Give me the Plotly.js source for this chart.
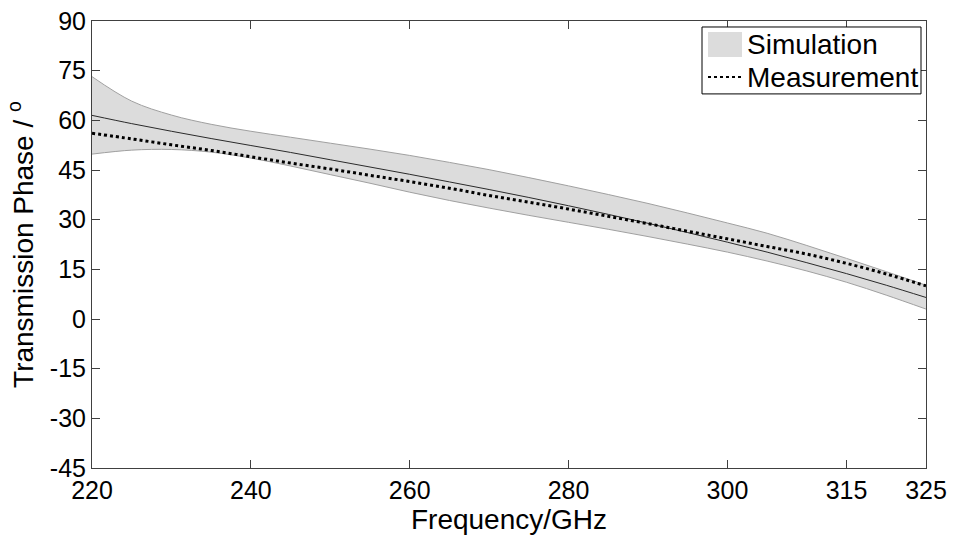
<!DOCTYPE html>
<html>
<head>
<meta charset="utf-8">
<script src="https://cdn.plot.ly/plotly-3.0.1.min.js"></script>
<style>
html,body{margin:0;padding:0;background:#fff;}
#chart{width:954px;height:536px;}
</style>
</head>
<body>
<div id="chart"></div>
<script>
// Frequency (GHz)
var freq = [220,225,230,235,240,245,250,255,260,265,270,275,280,285,290,295,300,305,310,315,320,325];
// Simulation band upper / lower edges and centre line (degrees)
var simUpper = [73.2,65.8,61.6,58.8,56.7,54.9,53.1,51.3,49.4,47.3,45.1,42.7,40.2,37.6,34.9,32.0,29.0,25.9,22.2,18.3,14.3,10.2];
var simLower = [49.8,51.0,51.2,50.4,48.6,46.2,43.6,41.0,38.3,35.8,33.5,31.3,29.2,27.1,24.9,22.6,20.2,17.5,14.5,11.1,7.2,3.0];
var simCenter = [61.5,59.0,56.7,54.5,52.4,50.3,48.1,45.9,43.7,41.4,39.1,36.7,34.2,31.6,28.9,26.1,23.2,20.2,17.0,13.7,10.2,6.5];
// Measurement (degrees)
var meas = [56.1,54.4,52.6,50.9,49.0,47.1,45.3,43.4,41.5,39.5,37.3,35.3,33.2,31.0,28.8,26.5,24.2,21.9,19.6,16.8,13.6,10.0];
// Tick labels
var xTicks = [220,240,260,280,300,315,325];
var yTicks = [-45,-30,-15,0,15,30,45,60,75,90];
// Legend labels
var legendNames = ['Simulation', 'Measurement'];

var FONT = 'Liberation Sans, Arial, Helvetica, sans-serif';
var TICK_SIZE = 25, TITLE_SIZE = 28, LEG_SIZE = 28;

var traces = [
  {x: freq, y: simLower, type: 'scatter', mode: 'lines', line: {color: '#a0a0a0', width: 1, shape: 'spline'}, showlegend: false},
  {x: freq, y: simUpper, type: 'scatter', mode: 'lines', fill: 'tonexty', fillcolor: 'rgb(220,220,220)', line: {color: '#a0a0a0', width: 1, shape: 'spline'}, name: legendNames[0], showlegend: false},
  {x: freq, y: simCenter, type: 'scatter', mode: 'lines', line: {color: '#2a2a2a', width: 1, shape: 'spline'}, showlegend: false},
  {x: freq, y: meas, type: 'scatter', mode: 'lines', line: {color: '#000000', width: 3, dash: 'dot', shape: 'spline'}, name: legendNames[1], showlegend: false}
];

var axisCommon = {
  showgrid: false, zeroline: false, showline: true, linecolor: '#404040', linewidth: 1,
  mirror: 'ticks', ticks: 'inside', ticklen: 8, tickcolor: '#404040', tickwidth: 1,
  tickfont: {family: FONT, size: TICK_SIZE, color: '#000'}
};

// pixel -> paper helpers for the legend box (plot area 92..926 x 21..468.5)
function px(x){ return (x - 92) / 834; }
function py(y){ return (468.5 - y) / 447.5; }

var layout = {
  width: 954, height: 536,
  margin: {l: 92, r: 28, t: 21, b: 67.5, pad: 0},
  paper_bgcolor: '#fff', plot_bgcolor: '#fff',
  font: {family: FONT, color: '#000'},
  showlegend: false,
  xaxis: Object.assign({}, axisCommon, {
    range: [220, 325], tickmode: 'array', tickvals: xTicks, ticktext: xTicks.map(String),
    title: {text: 'Frequency/GHz', font: {family: FONT, size: TITLE_SIZE, color: '#000'}, standoff: 0}
  }),
  yaxis: Object.assign({}, axisCommon, {
    range: [-45, 90], tickmode: 'array', tickvals: yTicks, ticktext: yTicks.map(String),
    title: {text: 'Transmission Phase / <sup>o</sup>', font: {family: FONT, size: TITLE_SIZE, color: '#000'}, standoff: 8}
  }),
  shapes: [
    {type: 'rect', xref: 'paper', yref: 'paper', x0: px(702), x1: px(921), y0: py(94), y1: py(27),
     line: {color: '#000', width: 1}, fillcolor: '#fff', layer: 'above'},
    {type: 'rect', xref: 'paper', yref: 'paper', x0: px(708), x1: px(742), y0: py(57), y1: py(32),
     line: {width: 0}, fillcolor: 'rgb(220,220,220)', layer: 'above'},
    {type: 'line', xref: 'paper', yref: 'paper', x0: px(708), x1: px(742), y0: py(77), y1: py(77),
     line: {color: '#000', width: 2, dash: 'dot'}, layer: 'above'}
  ],
  annotations: [
    {xref: 'paper', yref: 'paper', x: px(745), y: py(44.5), xanchor: 'left', yanchor: 'middle', showarrow: false,
     text: legendNames[0], font: {family: FONT, size: LEG_SIZE, color: '#000'}},
    {xref: 'paper', yref: 'paper', x: px(745), y: py(77.5), xanchor: 'left', yanchor: 'middle', showarrow: false,
     text: legendNames[1], font: {family: FONT, size: LEG_SIZE, color: '#000'}}
  ]
};

Plotly.newPlot('chart', traces, layout, {displayModeBar: false, staticPlot: true});
</script>
</body>
</html>
